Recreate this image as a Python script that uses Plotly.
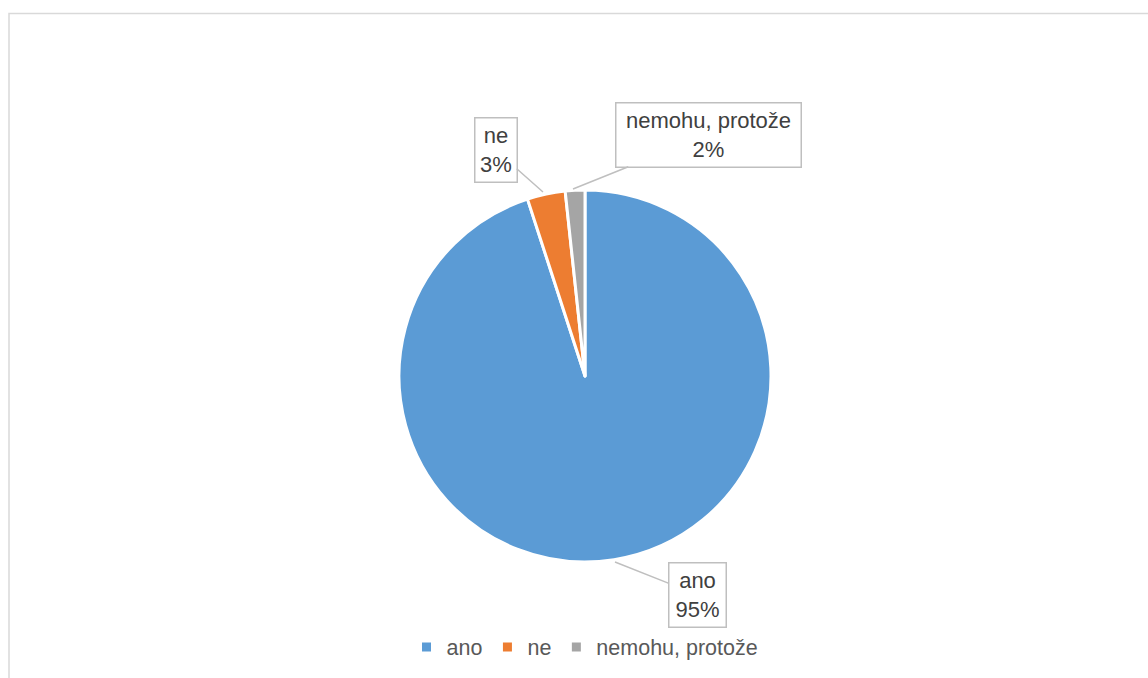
import plotly.graph_objects as go

labels = ["ano", "ne", "nemohu, protože"]
values = [95.0, 3.3, 1.7]
pct_text = ["95%", "3%", "2%"]
colors = ["#5B9BD5", "#ED7D31", "#A5A5A5"]

W, H = 1148, 678
cx, cy, r = 585, 376, 186

def px(x):
    return x / W

def py(y):
    return 1 - y / H

fig = go.Figure()
fig.add_trace(go.Pie(
    labels=labels, values=values, sort=False, direction="clockwise", rotation=0,
    marker=dict(colors=colors, line=dict(color="white", width=3)),
    textinfo="none", hoverinfo="label+percent",
    domain=dict(x=[px(cx - r), px(cx + r)], y=[py(cy + r), py(cy - r)]),
))

FONT = "Liberation Sans, Arial, sans-serif"
# callout label positions: (tip_x, tip_y, box_cx, box_cy, inner_w, inner_h)
callouts = [
    (615, 562, 697, 594.5, 52, 59),
    (543, 192, 495.5, 150, 37, 59),
    (573, 189, 708.5, 134.5, 180, 59),
]
annotations = []
for lab, pt, (tx, ty, bx, by, w, h) in zip(labels, pct_text, callouts):
    annotations.append(dict(
        x=px(tx), y=py(ty), xref="paper", yref="paper",
        ax=bx - tx, ay=by - ty,
        text=f"{lab}<br>{pt}", showarrow=True, arrowhead=0, arrowwidth=1.5,
        arrowcolor="#BFBFBF", standoff=0, startstandoff=0,
        bordercolor="#BFBFBF", borderwidth=1.5, borderpad=2, bgcolor="white",
        width=w, height=h,
        font=dict(family=FONT, size=22, color="#404040"),
    ))

fig.update_layout(
    width=W, height=H,
    margin=dict(l=0, r=0, t=0, b=0),
    paper_bgcolor="white", plot_bgcolor="white",
    showlegend=True,
    legend=dict(orientation="h", x=0.5096, xanchor="center", y=py(647), yanchor="middle",
                font=dict(family=FONT, size=21.5, color="#595959"),
                itemwidth=30, bgcolor="rgba(0,0,0,0)"),
    annotations=annotations,
    shapes=[dict(type="rect", xref="paper", yref="paper",
                 x0=px(9), x1=1.05, y0=-0.05, y1=py(13.5),
                 line=dict(color="#D9D9D9", width=1.5), fillcolor="rgba(0,0,0,0)", layer="below")],
)

fig.write_html("out.html", config={"displayModeBar": False},
               post_script="document.body.style.margin='0';document.body.style.overflow='hidden';")
